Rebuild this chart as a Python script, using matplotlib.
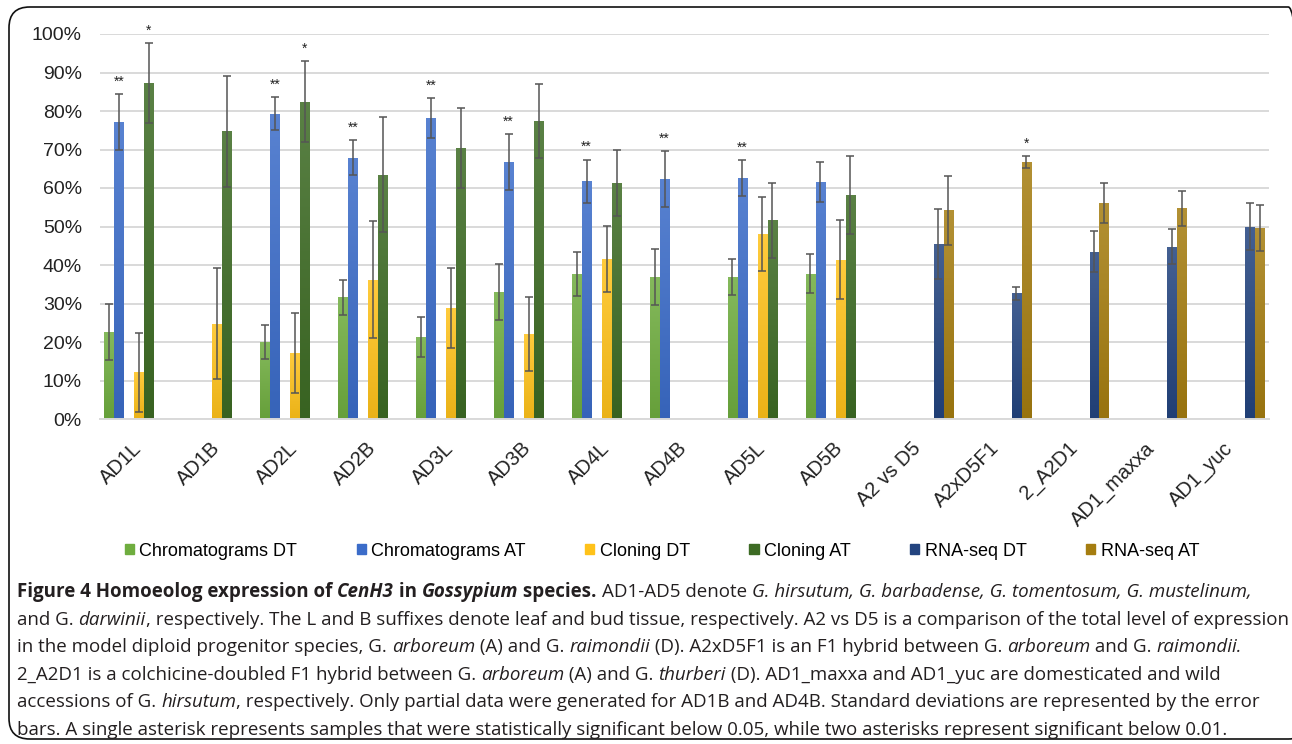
import numpy as np
import matplotlib
matplotlib.use("Agg")
import matplotlib.pyplot as plt
from matplotlib.patches import FancyBboxPatch, Patch
from matplotlib.ticker import PercentFormatter
from matplotlib.transforms import IdentityTransform
from matplotlib.colors import LinearSegmentedColormap, to_rgb

categories = ["AD1L", "AD1B", "AD2L", "AD2B", "AD3L", "AD3B", "AD4L", "AD4B",
              "AD5L", "AD5B", "A2 vs D5", "A2xD5F1", "2_A2D1", "AD1_maxxa", "AD1_yuc"]
nan = np.nan

# percent values, sd = half the error bar
chrom_dt    = [22.5, nan, 20.1, 31.6, 21.3, 32.9, 37.7, 36.9, 36.9, 37.7, nan, nan, nan, nan, nan]
chrom_dt_sd = [7.3, nan, 4.4, 4.6, 5.1, 7.3, 5.7, 7.3, 4.7, 5.1, nan, nan, nan, nan, nan]
chrom_at    = [77.1, nan, 79.3, 67.9, 78.2, 66.7, 61.8, 62.4, 62.6, 61.6, nan, nan, nan, nan, nan]
chrom_at_sd = [7.3, nan, 4.3, 4.6, 5.2, 7.3, 5.6, 7.3, 4.7, 5.2, nan, nan, nan, nan, nan]
clon_dt     = [12.1, 24.8, 17.1, 36.2, 28.8, 22.0, 41.6, nan, 48.0, 41.4, nan, nan, nan, nan, nan]
clon_dt_sd  = [10.3, 14.5, 10.4, 15.2, 10.3, 9.6, 8.5, nan, 9.6, 10.2, nan, nan, nan, nan, nan]
clon_at     = [87.3, 74.7, 82.4, 63.5, 70.5, 77.4, 61.2, nan, 51.6, 58.2, nan, nan, nan, nan, nan]
clon_at_sd  = [10.3, 14.5, 10.5, 15.0, 10.4, 9.7, 8.6, nan, 9.7, 10.2, nan, nan, nan, nan, nan]
rna_dt      = [nan, nan, nan, nan, nan, nan, nan, nan, nan, nan, 45.4, 32.6, 43.5, 44.8, 49.9]
rna_dt_sd   = [nan, nan, nan, nan, nan, nan, nan, nan, nan, nan, 9.1, 1.6, 5.3, 4.5, 6.1]
rna_at      = [nan, nan, nan, nan, nan, nan, nan, nan, nan, nan, 54.2, 66.7, 56.0, 54.7, 49.7]
rna_at_sd   = [nan, nan, nan, nan, nan, nan, nan, nan, nan, nan, 9.0, 1.6, 5.2, 4.5, 6.0]

series = [
    ("Chromatograms DT", chrom_dt, chrom_dt_sd, "#6fad3f", -3),
    ("Chromatograms AT", chrom_at, chrom_at_sd, "#3b6cc9", -2),
    ("Cloning DT", clon_dt, clon_dt_sd, "#ffc21a", 0),
    ("Cloning AT", clon_at, clon_at_sd, "#3d6b24", 1),
    ("RNA-seq DT", rna_dt, rna_dt_sd, "#23447f", 2),
    ("RNA-seq AT", rna_at, rna_at_sd, "#a57d10", 3),
]

# significance marks: (category, series, mark)
stars = [(0, 1, "**"), (0, 3, "*"), (2, 1, "**"), (2, 3, "*"), (3, 1, "**"),
         (4, 1, "**"), (5, 1, "**"), (6, 1, "**"), (7, 1, "**"), (8, 1, "**"),
         (11, 5, "*")]

caption = [
    [("Figure 4 Homoeolog expression of ", "b"), ("CenH3", "bi"), (" in ", "b"),
     ("Gossypium", "bi"), (" species. ", "b"), ("AD1-AD5 denote ", "r"),
     ("G. hirsutum, G. barbadense, G. tomentosum, G. mustelinum,", "i")],
    [("and G. ", "r"), ("darwinii", "i"),
     (", respectively. The L and B suffixes denote leaf and bud tissue, respectively. A2 vs D5 is a comparison of the total level of expression", "r")],
    [("in the model diploid progenitor species, G. ", "r"), ("arboreum", "i"), (" (A) and G. ", "r"),
     ("raimondii", "i"), (" (D). A2xD5F1 is an F1 hybrid between G. ", "r"), ("arboreum", "i"),
     (" and G. ", "r"), ("raimondii.", "i")],
    [("2_A2D1 is a colchicine-doubled F1 hybrid between G. ", "r"), ("arboreum", "i"),
     (" (A) and G. ", "r"), ("thurberi", "i"),
     (" (D). AD1_maxxa and AD1_yuc are domesticated and wild", "r")],
    [("accessions of G. ", "r"), ("hirsutum", "i"),
     (", respectively. Only partial data were generated for AD1B and AD4B. Standard deviations are represented by the error", "r")],
    [("bars. A single asterisk represents samples that were statistically significant below 0.05, while two asterisks represent significant below 0.01.", "r")],
]

W, H = 1292, 744
fig = plt.figure(figsize=(W / 100, H / 100), dpi=100)
ax = fig.add_axes([100 / W, 1 - 419 / H, 1169 / W, 385 / H])


def mix(c, f):
    r = np.array(to_rgb(c))
    return tuple(r + (1 - r) * f) if f > 0 else tuple(r * (1 + f))


x = np.arange(len(categories))
slot = 10 / 78
for name, vals, sd, col, k in series:
    bars = ax.bar(x + k * slot, vals, width=slot * 0.93, color=col, label=name, zorder=2,
                  yerr=sd, error_kw=dict(ecolor="#555555", elinewidth=1.1, capsize=3,
                                         capthick=1.1, zorder=3))
    # excel-like soft vertical gradient
    cmap = LinearSegmentedColormap.from_list(name, [mix(col, -0.08), mix(col, 0.15)])
    for b in bars:
        h = b.get_height()
        if np.isnan(h):
            continue
        x0 = b.get_x()
        im = ax.imshow(np.linspace(1, 0, 64).reshape(-1, 1), extent=(x0, x0 + b.get_width(), 0, h),
                       cmap=cmap, aspect="auto", zorder=2.05, interpolation="bilinear")
        im.set_clip_path(b)

for ci, si, mark in stars:
    vals, sd, k = series[si][1], series[si][2], series[si][4]
    ax.text(ci + k * slot, vals[ci] + sd[ci] + 3.2, mark, ha="center", va="center",
            fontsize=10, family="Liberation Sans", color="#222222", clip_on=False)

ax.set_xlim(-0.5, len(categories) - 0.5)
ax.set_ylim(0, 100)
ax.set_aspect("auto")
ax.set_yticks(np.arange(0, 101, 10))
ax.yaxis.set_major_formatter(PercentFormatter(100, decimals=0))
ax.grid(axis="y", color="#d9d9d9", linewidth=1.4)
ax.set_axisbelow(True)
for s in ["left", "right", "top"]:
    ax.spines[s].set_visible(False)
ax.spines["bottom"].set_color("#d9d9d9")
ax.spines["bottom"].set_linewidth(1.4)
ax.tick_params(axis="y", length=0, pad=13, labelsize=14, labelcolor="#222222")
ax.tick_params(axis="x", length=0, pad=19)
ax.set_xticks(x)
ax.set_xticklabels(categories, rotation=45, ha="right", va="center", rotation_mode="anchor",
                   fontsize=14.5, color="#222222")
for lab in ax.get_yticklabels() + ax.get_xticklabels():
    lab.set_family("Liberation Sans")

handles = [Patch(color=s[3], label=s[0]) for s in series]
fig.legend(handles=handles, loc="center", bbox_to_anchor=(662 / W, 1 - 551 / H), ncol=6,
           frameon=False, handlelength=0.5, handleheight=0.5, handletextpad=0.3,
           columnspacing=3.3, prop=dict(family="Liberation Sans", size=13))

# caption, word-level layout in pixels
renderer = fig.canvas.get_renderer()
styles = {"r": ("normal", "normal"), "i": ("normal", "italic"),
          "b": ("bold", "normal"), "bi": ("bold", "italic")}


def put_caption(size, measure_only=False):
    made, widest = [], 0
    for i, line in enumerate(caption):
        xp = 17
        yp = H - (592 + i * 27.6)
        for txt, st in line:
            w8, sl = styles[st]
            t = fig.text(xp, yp, txt, transform=IdentityTransform(), fontsize=size,
                         family="Open Sans", weight=w8, style=sl, color="#231f20",
                         va="center", ha="left")
            xp += t.get_window_extent(renderer).width
            made.append(t)
        widest = max(widest, xp - 17)
    if measure_only:
        for t in made:
            t.remove()
    return widest


base = 12
wid = put_caption(base, measure_only=True)
put_caption(base * 1265 / wid)

frame = FancyBboxPatch((9 / W, 5 / H), 1300 / W, 732 / H, boxstyle="round,pad=0,rounding_size=0.016",
                       transform=fig.transFigure, fill=False, edgecolor="#111111", linewidth=1.2,
                       mutation_aspect=W / H)
fig.patches.append(frame)

fig.savefig("out.png", dpi=100)
